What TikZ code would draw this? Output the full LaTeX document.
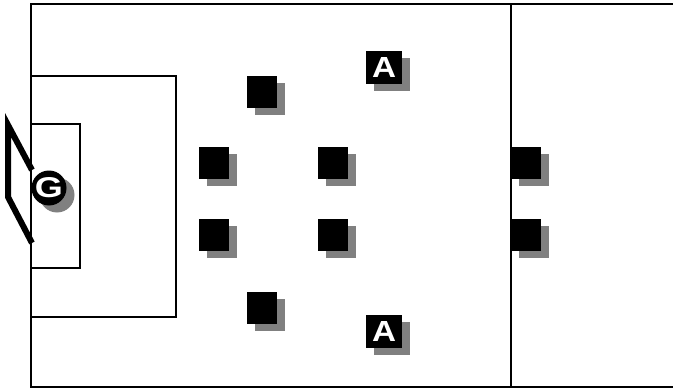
\documentclass[tikz,border=0pt]{standalone}
\usepackage{fontspec}
\setsansfont{Liberation Sans}
\usetikzlibrary{shadows}
\definecolor{shadeG}{RGB}{128,128,128}

\tikzset{
  player/.style={fill=black,minimum width=30pt,minimum height=32pt,inner sep=0pt,outer sep=0pt,
    drop shadow={shadow xshift=8pt,shadow yshift=-7pt,fill=shadeG,opacity=1}},
  attacker/.style={player,minimum width=36pt,minimum height=33pt,text=white,
    font=\sffamily\bfseries},
  keeper/.style={circle,fill=black,minimum size=35pt,inner sep=0pt,text=white,
    font=\sffamily\bfseries,
    drop shadow={shadow xshift=8pt,shadow yshift=-7pt,fill=shadeG,opacity=1}}
}
\newcommand{\bigletter}[3]{\resizebox{#1}{#2}{#3}}

\begin{document}
\begin{tikzpicture}[x=1pt,y=-1pt]
\useasboundingbox (0,0) rectangle (673,388);
% pitch
\draw[line width=2pt] (673,4) -- (31,4) -- (31,387) -- (673,387);
\draw[line width=2pt] (511,4) -- (511,387);
\draw[line width=1.6pt] (31,76) -| (176,317) -- (31,317);
\draw[line width=1.6pt] (31,124) -| (80,268) -- (31,268);
% goal
\draw[line width=6pt] (32,170) -- (8,125) -- (8,197) -- (32,243);
% players
\foreach \x/\y [count=\i] in {262/92,214/163,333/163,214/235,333/235,262/308,526/163,526/235}
  \node[player] (p\i) at (\x,\y) {};
\node[attacker] (a1) at (384,67) {\bigletter{24pt}{20pt}{A}};
\node[attacker] (a2) at (384,331) {\bigletter{24pt}{20pt}{A}};
\node[keeper] (g) at (49,188) {\bigletter{28pt}{20pt}{G}};
\end{tikzpicture}
\end{document}
